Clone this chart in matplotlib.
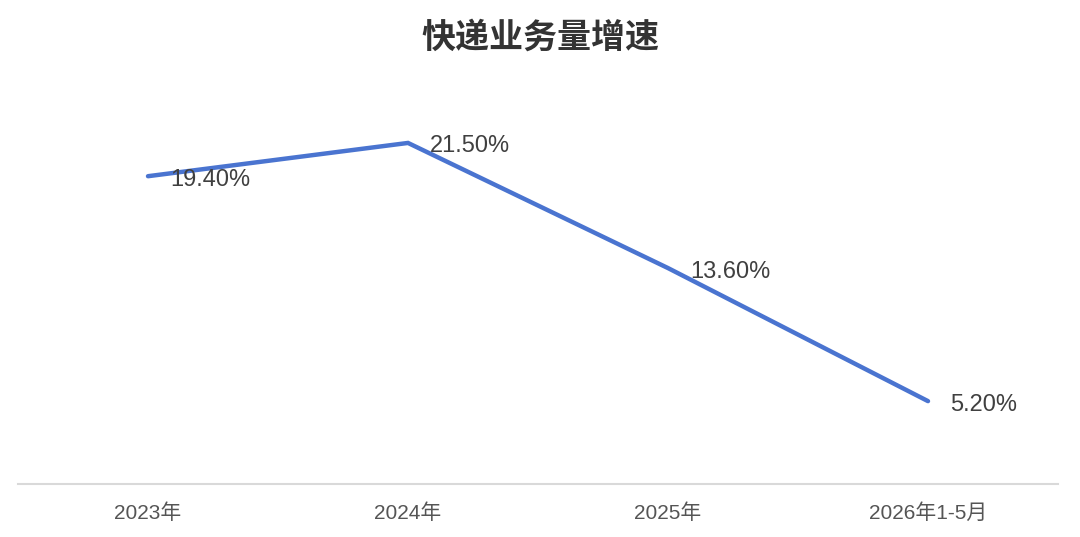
import matplotlib
matplotlib.use("Agg")
import matplotlib.pyplot as plt

plt.rcParams['font.family'] = ['Liberation Sans', 'Noto Sans CJK SC', 'DejaVu Sans']

# data
categories = ["2023年", "2024年", "2025年", "2026年1-5月"]
growth = [19.4, 21.5, 13.6, 5.2]
labels = ["19.40%", "21.50%", "13.60%", "5.20%"]

fig = plt.figure(figsize=(10.8, 5.37), dpi=100)
ax = fig.add_axes([18 / 1080, 53.5 / 537, 1040 / 1080, 396 / 537])

x = list(range(len(categories)))
ax.plot(x, growth, color="#4a74d0", linewidth=3.2, solid_capstyle="round",
        solid_joinstyle="miter")

for xi, yi, lab in zip(x, growth, labels):
    ax.annotate(lab, (xi, yi), xytext=(16, -2.5), textcoords="offset points",
                ha="left", va="center", fontsize=17, color="#404040")

ax.set_xlim(-0.5, len(categories) - 0.5)
ax.set_ylim(0, 25)
ax.set_xticks(x)
ax.set_xticklabels(categories, fontsize=15, color="#555555")
ax.tick_params(axis="x", length=0, pad=14)
ax.set_yticks([])

for side in ["top", "right", "left"]:
    ax.spines[side].set_visible(False)
ax.spines["bottom"].set_color("#d9d9d9")
ax.spines["bottom"].set_linewidth(1.5)

fig.text(0.5, 1 - 37 / 537, "快递业务量增速", ha="center", va="center",
         fontsize=24.5, fontweight="bold", color="#333333",
         family=['Noto Sans CJK SC', 'DejaVu Sans'])

fig.savefig("out.png", dpi=100)
